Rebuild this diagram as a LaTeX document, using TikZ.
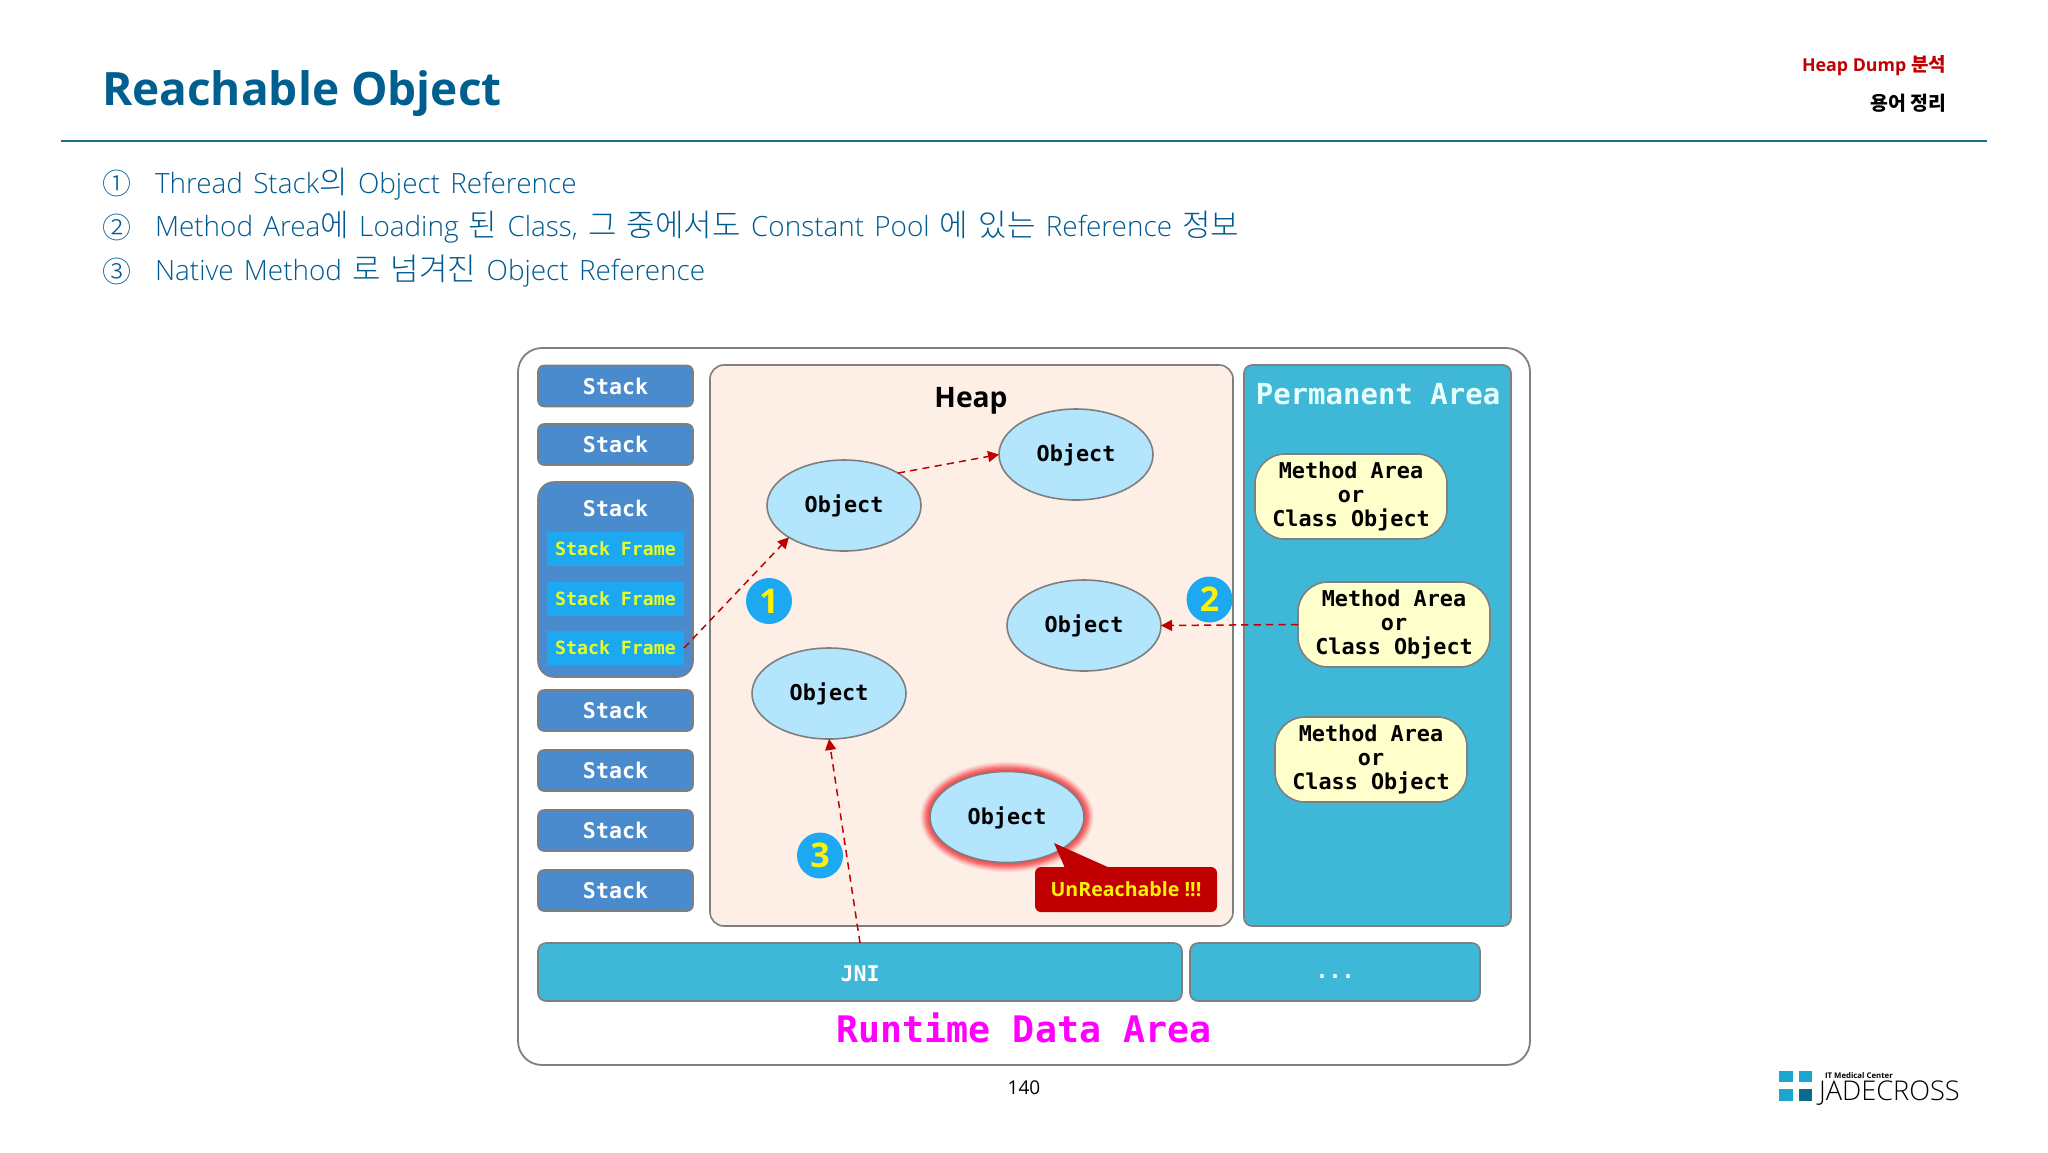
\documentclass[tikz,border=0pt]{standalone}
\usepackage{fontspec}
\usetikzlibrary{arrows.meta,shapes.geometric}
\setmainfont{Open Sans}
\newfontfamily\kr{Noto Sans CJK KR}
\newfontfamily\krl{Noto Sans CJK KR Light}
\newfontfamily\lgt{Open Sans Light}
\newfontfamily\mono{DejaVu Sans Mono}
\newcommand\krt[1]{{\krl\fontsize{15.5}{16}\selectfont #1}}
\newcommand\objlabel{\raisebox{0pt}[9pt][1.6pt]{Object}}
\newcommand\widesp{\spaceskip=5.1pt\relax}
\definecolor{titleblue}{HTML}{005F8E}
\definecolor{linecol}{HTML}{1B6F8C}
\definecolor{bodyblue}{HTML}{005A92}
\definecolor{edge}{HTML}{7F7F7F}
\definecolor{stackfill}{HTML}{4A8BCE}
\definecolor{framefill}{HTML}{1DA9F2}
\definecolor{framefont}{HTML}{E4FF2A}
\definecolor{objfill}{HTML}{B3E5FC}
\definecolor{creamfill}{HTML}{FFFFCC}
\definecolor{heapfill}{HTML}{FDEFE6}
\definecolor{permfill}{HTML}{3FB7D7}
\definecolor{permtext}{HTML}{E6FFFF}
\definecolor{redfill}{HTML}{C00000}
\definecolor{glowred}{HTML}{F4484C}
\definecolor{logoa}{HTML}{1BA5CF}
\definecolor{logob}{HTML}{0E6A8C}
\tikzset{
  every node/.style={inner sep=0pt,outer sep=0pt},
  txt/.style={anchor=base west,text=bodyblue,font=\lgt\fontsize{13.95}{16}\selectfont},
  num/.style={anchor=base west,text=bodyblue,font=\krl\fontsize{14.5}{16}\selectfont},
  stackbox/.style={draw=edge,line width=.8pt,fill=stackfill,rounded corners=3pt,minimum width=77.5pt,minimum height=20.5pt,text=white,font=\mono\bfseries\fontsize{10.8}{12}\selectfont},
  framebox/.style={fill=framefill,minimum width=68.5pt,minimum height=17pt,text=framefont,font=\mono\bfseries\fontsize{9.1}{11}\selectfont},
  objbox/.style={ellipse,draw=edge,line width=.8pt,fill=objfill,minimum width=77pt,minimum height=45.5pt,text=black,font=\mono\bfseries\fontsize{10.9}{12}\selectfont},
  creambox/.style={draw=edge,line width=.8pt,fill=creamfill,rounded corners=15pt,minimum width=96pt,minimum height=42.5pt,align=center,text=black,font=\mono\bfseries\fontsize{10.9}{12}\selectfont},
  tealbox/.style={draw=edge,line width=.8pt,fill=permfill,rounded corners=4pt},
  badge/.style={circle,fill=framefill,minimum size=23pt,text=yellow,font=\bfseries\fontsize{17}{18}\selectfont},
  refline/.style={draw=redfill,line width=.75pt,dashed,dash pattern=on 3.6pt off 2.6pt,-{Triangle[length=5.5pt,width=5.5pt]}},
}
\begin{document}
\begin{tikzpicture}[x=.5pt,y=-.5pt]
\useasboundingbox (0,0) rectangle (2048,1152);
% header
\node[anchor=base west,text=titleblue,font=\bfseries\fontsize{23}{26}\selectfont] (title) at (102,105) {Reachable Object};
\coordinate (ruleL) at (61,141);
\coordinate (ruleR) at (1987,141);
\draw[linecol,line width=.8pt] (ruleL) -- (ruleR);
\node[anchor=base east,text=redfill,font=\bfseries\fontsize{8.9}{10}\selectfont] (hd1) at (1946,71) {Heap Dump {\kr\fontsize{9.5}{10}\selectfont\bfseries 분석}};
\node[anchor=base east,text=black,font=\kr\fontsize{9.7}{10}\selectfont\bfseries] (hd2) at (1946,110) {용어 정리};
% list
\node[num] (n1) at (102,194) {①};
\node[num] (n2) at (102,238) {②};
\node[num] (n3) at (102,282) {③};
\node[txt] (t1) at (155,193) {\widesp Thread Stack\krt{의} Object Reference};
\node[txt] (t2) at (155,236) {\widesp Method Area\krt{에} Loading \krt{된} Class, \krt{그 중에서도} Constant Pool \krt{에 있는} Reference \krt{정보}};
\node[txt] (t3) at (155,280) {\widesp Native Method \krt{로 넘겨진} Object Reference};
% containers
\node[draw=edge,line width=.9pt,fill=white,rounded corners=12pt,minimum width=506pt,minimum height=358.5pt] (outer) at (1024,706.5) {};
\node[draw=edge,line width=.8pt,fill=heapfill,rounded corners=7pt,minimum width=261.5pt,minimum height=280.5pt] (heap) at (971.5,645.5) {};
\node[tealbox,minimum width=133.5pt,minimum height=280.5pt] (perm) at (1377.5,645.5) {};
\node[anchor=center,text=black,font=\bfseries\fontsize{14.1}{16}\selectfont] (heapT) at (971,401) {Heap};
\node[text=permtext,font=\mono\bfseries\fontsize{14.5}{16}\selectfont] (permT) at (1378,394) {Permanent Area};
% stacks
\node[stackbox] (s1) at (615.5,386) {Stack};
\node[stackbox] (s2) at (615.5,444.5) {Stack};
\node[stackbox,rounded corners=8pt,minimum height=97.5pt] (s3) at (615.5,579.5) {};
\node[text=white,font=\mono\bfseries\fontsize{10.8}{12}\selectfont] (s3T) at (615.5,508) {Stack};
\node[framebox] (f1) at (615.5,549) {Stack Frame};
\node[framebox] (f2) at (615.5,598.5) {Stack Frame};
\node[framebox] (f3) at (615.5,648) {Stack Frame};
\node[stackbox] (s4) at (615.5,710.5) {Stack};
\node[stackbox] (s5) at (615.5,770.5) {Stack};
\node[stackbox] (s6) at (615.5,830.5) {Stack};
\node[stackbox] (s7) at (615.5,890.5) {Stack};
% glow
\foreach \i/\m in {1/10,2/22,3/36,4/52,5/68,6/80,7/90,8/96,9/100}{
  \fill[glowred!\m!heapfill] (1007,817) ellipse [x radius=88-\i*1.2,y radius={56.5-\i*1.2}];
}
% objects
\node[objbox] (o1) at (844,505.5) {\objlabel};
\node[objbox] (o2) at (1076,454.5) {\objlabel};
\node[objbox] (o3) at (1084,625.5) {\objlabel};
\node[objbox] (o4) at (829,693.5) {\objlabel};
\node[objbox] (o5) at (1007,817) {\objlabel};
% callout
\node[fill=redfill,rounded corners=3pt,minimum width=91pt,minimum height=22.5pt,text=yellow,font=\bfseries\fontsize{9.8}{12}\selectfont] (un) at (1126,889.5) {\raisebox{0pt}[8.4pt][1pt]{UnReachable !!!}};
\coordinate (tip) at (1054,843);
\coordinate (baseA) at (1065,868);
\coordinate (baseB) at (1110,868);
\fill[redfill] (tip) -- (baseA) -- (baseB) -- cycle;
% method area
\node[creambox] (m1) at (1351,496.5) {Method Area\\or\\Class Object};
\node[creambox] (m2) at (1394,624.5) {Method Area\\or\\Class Object};
\node[creambox] (m3) at (1371,759.5) {Method Area\\or\\Class Object};
% bottom
\node[tealbox,minimum width=322pt,minimum height=29pt,text=white,font=\mono\bfseries\fontsize{10.8}{12}\selectfont] (jni) at (860,972) {\raisebox{0pt}[9pt][0pt]{JNI}};
\node[tealbox,minimum width=145pt,minimum height=29pt,text=white,font=\mono\bfseries\fontsize{10.8}{12}\selectfont] (dots) at (1335,972) {\raisebox{0pt}[6.5pt][0pt]{...}};
\node[text={rgb,255:red,255;green,0;blue,255},font=\mono\bfseries\fontsize{18.3}{20}\selectfont] (rda) at (1024,1028) {Runtime Data Area};
% connectors
\draw[refline] (f3.east) -- (o1.210);
\draw[refline] (o1.31) -- (o2.west);
\draw[refline] (m2.west) -- (o3.east);
\draw[refline] (jni.north) -- (o4.south);
% badges
\node[badge] (b1) at (769,601) {1};
\node[badge] (b2) at (1209.5,599.5) {2};
\node[badge] (b3) at (820,855.5) {3};
% footer
\node[text=black,font=\fontsize{9.5}{11}\selectfont] (page) at (1024,1088) {140};
\fill[logoa] (1779,1071) rectangle (1793,1082);
\fill[logoa] (1799,1071) rectangle (1812,1082);
\fill[logoa] (1779,1089) rectangle (1793,1101);
\fill[logob] (1799,1089) rectangle (1812,1101);
\node[anchor=base west,text=black,font=\bfseries\fontsize{3.9}{5}\selectfont] (lg1) at (1825,1078) {IT Medical Center};
\node[anchor=base west,text=black,font=\lgt\fontsize{13.6}{14}\selectfont] (lg2) at (1819,1100) {JADECROSS};
\end{tikzpicture}
\end{document}
